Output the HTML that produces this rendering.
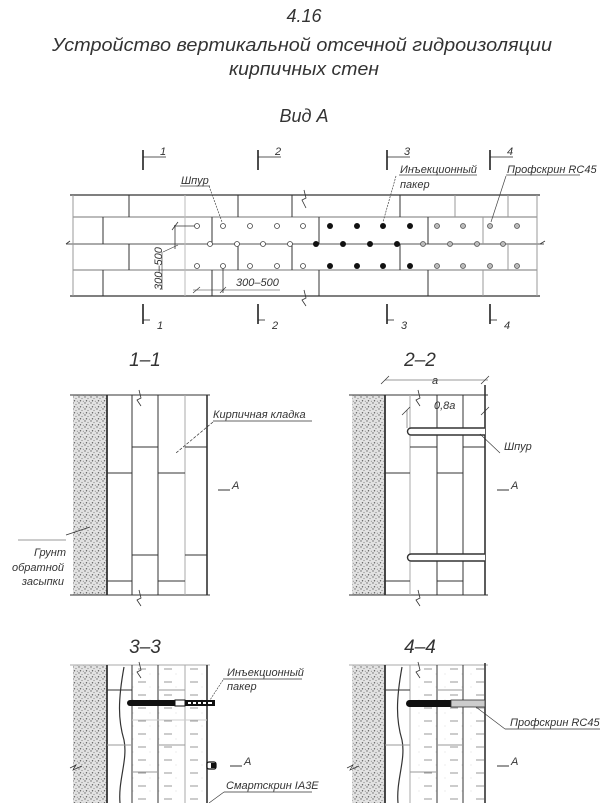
<!DOCTYPE html>
<html><head><meta charset="utf-8"><style>
html,body{margin:0;padding:0;background:#fff;}
svg{display:block;}
text{font-family:"Liberation Sans",sans-serif;font-style:italic;fill:#333;}
</style></head><body>
<svg width="609" height="803" viewBox="0 0 609 803" xmlns="http://www.w3.org/2000/svg">
<defs>
<pattern id="gr" width="6" height="6" patternUnits="userSpaceOnUse">
<rect width="6" height="6" fill="#e2e2e2"/>
<circle cx="1" cy="1" r="0.7" fill="#666"/><circle cx="4" cy="2.5" r="0.6" fill="#888"/><circle cx="2.5" cy="4.8" r="0.7" fill="#555"/><circle cx="5.3" cy="5.3" r="0.5" fill="#777"/>
</pattern>
<pattern id="ds" width="26" height="13" patternUnits="userSpaceOnUse">
<line x1="8" y1="6" x2="16" y2="6" stroke="#999" stroke-width="1"/>
<circle cx="3" cy="11" r="0.5" fill="#ccc"/><circle cx="20" cy="11" r="0.5" fill="#ccc"/>
</pattern>
</defs>

<!-- titles -->
<text x="304" y="22" font-size="18" text-anchor="middle">4.16</text>
<text x="302" y="51" font-size="18" text-anchor="middle" textLength="500" lengthAdjust="spacingAndGlyphs">Устройство вертикальной отсечной гидроизоляции</text>
<text x="304" y="75" font-size="18" text-anchor="middle" textLength="150" lengthAdjust="spacingAndGlyphs">кирпичных стен</text>
<text x="304" y="122" font-size="18" text-anchor="middle">Вид А</text>

<!-- plan view -->
<g stroke="#333" fill="none">
<line x1="70" y1="195" x2="540" y2="195" stroke-width="1.2"/>
<line x1="70" y1="296" x2="540" y2="296" stroke-width="1.2"/>
<line x1="73" y1="217" x2="537" y2="217" stroke="#777"/>
<line x1="66" y1="244" x2="544" y2="244" stroke="#555"/>
<line x1="73" y1="270" x2="537" y2="270" stroke="#777"/>
<line x1="73" y1="195" x2="73" y2="296" stroke="#999"/>
<line x1="537" y1="195" x2="537" y2="296" stroke="#999"/>
<g stroke-width="1">
<line x1="129" y1="195" x2="129" y2="217"/><line x1="238" y1="195" x2="238" y2="217"/><line x1="292" y1="195" x2="292" y2="217"/><line x1="400" y1="195" x2="400" y2="217"/><line x1="455" y1="195" x2="455" y2="217" stroke="#999"/><line x1="508" y1="195" x2="508" y2="217" stroke="#999"/>
<line x1="103" y1="217" x2="103" y2="244"/><line x1="212" y1="217" x2="212" y2="244"/><line x1="319" y1="217" x2="319" y2="244"/><line x1="428" y1="217" x2="428" y2="244"/><line x1="483" y1="217" x2="483" y2="244" stroke="#999"/>
<line x1="129" y1="244" x2="129" y2="270"/><line x1="238" y1="244" x2="238" y2="270"/><line x1="292" y1="244" x2="292" y2="270"/><line x1="400" y1="244" x2="400" y2="270"/><line x1="508" y1="244" x2="508" y2="270" stroke="#999"/>
<line x1="103" y1="270" x2="103" y2="296"/><line x1="212" y1="270" x2="212" y2="296"/><line x1="319" y1="270" x2="319" y2="296"/><line x1="428" y1="270" x2="428" y2="296"/><line x1="483" y1="270" x2="483" y2="296" stroke="#999"/>
</g>
<line x1="185" y1="195" x2="185" y2="296" stroke="#bbb"/>
<path d="M304 190 L306 198 L302 200 L306 208" stroke-width="0.8"/>
<path d="M304 290 L306 298 L302 300 L306 306" stroke-width="0.8"/>
<path d="M66 244 L70 241" stroke-width="0.8"/><path d="M540 244 L545 241" stroke-width="0.8"/>
<line x1="174" y1="226" x2="196" y2="226" stroke-width="0.8"/>
<line x1="175" y1="225" x2="175" y2="249" stroke-width="0.8"/>
<line x1="172" y1="230" x2="178" y2="222" stroke-width="0.8"/>
<line x1="163" y1="252" x2="178" y2="245" stroke-width="0.6"/>
<line x1="162" y1="252" x2="162" y2="290" stroke-width="0.6"/>
<line x1="223" y1="266" x2="223" y2="293" stroke-width="0.8"/>
<line x1="193" y1="290" x2="280" y2="290" stroke-width="0.6"/>
<line x1="193" y1="293" x2="200" y2="287" stroke-width="0.6"/><line x1="220" y1="293" x2="226" y2="287" stroke-width="0.6"/>
</g>
<text x="162" y="290" font-size="11" transform="rotate(-90 162 290)">300–500</text>
<text x="236" y="286" font-size="11">300–500</text>

<g fill="#fff" stroke="#444" stroke-width="0.8">
<circle cx="197" cy="226" r="2.5"/><circle cx="223" cy="226" r="2.5"/><circle cx="250" cy="226" r="2.5"/><circle cx="277" cy="226" r="2.5"/><circle cx="303" cy="226" r="2.5"/>
<circle cx="210" cy="244" r="2.5"/><circle cx="237" cy="244" r="2.5"/><circle cx="263" cy="244" r="2.5"/><circle cx="290" cy="244" r="2.5"/>
<circle cx="197" cy="266" r="2.5"/><circle cx="223" cy="266" r="2.5"/><circle cx="250" cy="266" r="2.5"/><circle cx="277" cy="266" r="2.5"/><circle cx="303" cy="266" r="2.5"/>
</g>
<g fill="#111">
<circle cx="330" cy="226" r="3"/><circle cx="357" cy="226" r="3"/><circle cx="383" cy="226" r="3"/><circle cx="410" cy="226" r="3"/>
<circle cx="316" cy="244" r="3"/><circle cx="343" cy="244" r="3"/><circle cx="370" cy="244" r="3"/><circle cx="397" cy="244" r="3"/>
<circle cx="330" cy="266" r="3"/><circle cx="357" cy="266" r="3"/><circle cx="383" cy="266" r="3"/><circle cx="410" cy="266" r="3"/>
</g>
<g fill="#bbb" stroke="#555" stroke-width="0.8">
<circle cx="437" cy="226" r="2.5"/><circle cx="463" cy="226" r="2.5"/><circle cx="490" cy="226" r="2.5"/><circle cx="517" cy="226" r="2.5"/>
<circle cx="423" cy="244" r="2.5"/><circle cx="450" cy="244" r="2.5"/><circle cx="477" cy="244" r="2.5"/><circle cx="503" cy="244" r="2.5"/>
<circle cx="437" cy="266" r="2.5"/><circle cx="463" cy="266" r="2.5"/><circle cx="490" cy="266" r="2.5"/><circle cx="517" cy="266" r="2.5"/>
</g>
<g stroke="#444" fill="none" stroke-width="0.7">
<line x1="180" y1="186" x2="210" y2="186"/><line x1="209" y1="186" x2="222" y2="222" stroke-dasharray="2 1"/>
<line x1="399" y1="175" x2="477" y2="175"/><line x1="396" y1="176" x2="383" y2="222" stroke-dasharray="2 1"/>
<line x1="506" y1="175" x2="580" y2="175"/><line x1="506" y1="176" x2="491" y2="222"/>
</g>
<text x="181" y="184" font-size="11">Шпур</text>
<text x="400" y="173" font-size="11">Инъекционный</text>
<text x="400" y="188" font-size="11">пакер</text>
<text x="507" y="173" font-size="11">Профскрин RC45</text>
<g stroke="#222" stroke-width="1.6">
<line x1="143" y1="150" x2="143" y2="170"/><line x1="258" y1="150" x2="258" y2="170"/><line x1="387" y1="150" x2="387" y2="170"/><line x1="490" y1="150" x2="490" y2="170"/>
<line x1="143" y1="304" x2="143" y2="324"/><line x1="258" y1="304" x2="258" y2="324"/><line x1="387" y1="304" x2="387" y2="324"/><line x1="490" y1="304" x2="490" y2="324"/>
</g>
<g stroke="#222" stroke-width="0.8">
<line x1="143" y1="157" x2="166" y2="157"/><line x1="258" y1="157" x2="281" y2="157"/><line x1="387" y1="157" x2="410" y2="157"/><line x1="490" y1="157" x2="513" y2="157"/>
<line x1="143" y1="320" x2="150" y2="320"/><line x1="258" y1="320" x2="265" y2="320"/><line x1="387" y1="320" x2="394" y2="320"/><line x1="490" y1="320" x2="497" y2="320"/>
</g>
<text x="160" y="155" font-size="11">1</text><text x="275" y="155" font-size="11">2</text><text x="404" y="155" font-size="11">3</text><text x="507" y="155" font-size="11">4</text>
<text x="157" y="329" font-size="11">1</text><text x="272" y="329" font-size="11">2</text><text x="401" y="329" font-size="11">3</text><text x="504" y="329" font-size="11">4</text>

<!-- 1-1 -->
<text x="145" y="366" font-size="19" text-anchor="middle">1–1</text>
<rect x="73" y="395" width="34" height="200" fill="url(#gr)"/>
<g stroke="#333" fill="none">
<line x1="70" y1="395" x2="210" y2="395"/><line x1="70" y1="595" x2="210" y2="595"/>
<line x1="107" y1="395" x2="107" y2="595" stroke-width="1.8"/>
<line x1="207" y1="395" x2="207" y2="595" stroke-width="1.6"/>
<line x1="132" y1="395" x2="132" y2="595"/><line x1="158" y1="395" x2="158" y2="595"/><line x1="185" y1="395" x2="185" y2="595" stroke="#aaa"/>
<line x1="132" y1="447" x2="158" y2="447"/><line x1="185" y1="447" x2="207" y2="447"/>
<line x1="107" y1="473" x2="132" y2="473"/><line x1="158" y1="473" x2="185" y2="473"/>
<line x1="132" y1="555" x2="158" y2="555"/><line x1="185" y1="555" x2="207" y2="555"/>
<line x1="107" y1="581" x2="132" y2="581"/><line x1="158" y1="581" x2="185" y2="581"/>
<path d="M139 390 L141 398 L137 400 L141 406" stroke-width="0.8"/>
<path d="M139 590 L141 598 L137 600 L141 606" stroke-width="0.8"/>
<line x1="213" y1="421" x2="312" y2="421" stroke-width="0.7"/>
<line x1="213" y1="422" x2="176" y2="453" stroke-width="0.7" stroke-dasharray="3 1.5"/>
<line x1="66" y1="535" x2="90" y2="527" stroke-width="0.7"/>
<line x1="18" y1="540" x2="66" y2="540" stroke-width="0.6"/>
<line x1="218" y1="490" x2="230" y2="490" stroke-width="1"/>
</g>
<text x="213" y="418" font-size="11">Кирпичная кладка</text>
<text x="232" y="489" font-size="11">A</text>
<text x="66" y="556" font-size="11" text-anchor="end">Грунт</text>
<text x="64" y="571" font-size="11" text-anchor="end">обратной</text>
<text x="64" y="585" font-size="11" text-anchor="end">засыпки</text>

<!-- 2-2 -->
<text x="420" y="366" font-size="19" text-anchor="middle">2–2</text>
<rect x="352" y="395" width="33" height="200" fill="url(#gr)"/>
<g stroke="#333" fill="none">
<line x1="349" y1="395" x2="488" y2="395"/><line x1="349" y1="595" x2="488" y2="595"/>
<line x1="385" y1="395" x2="385" y2="595" stroke-width="1.8"/>
<line x1="485" y1="385" x2="485" y2="595" stroke-width="1.6"/>
<line x1="410" y1="395" x2="410" y2="595" stroke="#aaa"/><line x1="437" y1="395" x2="437" y2="595"/><line x1="463" y1="395" x2="463" y2="595"/>
<line x1="410" y1="447" x2="437" y2="447"/><line x1="463" y1="447" x2="485" y2="447"/>
<line x1="385" y1="473" x2="410" y2="473"/><line x1="437" y1="473" x2="463" y2="473"/>
<line x1="410" y1="555" x2="437" y2="555"/><line x1="463" y1="555" x2="485" y2="555"/>
<line x1="385" y1="581" x2="410" y2="581"/><line x1="437" y1="581" x2="463" y2="581"/>
<path d="M418 390 L420 398 L416 400 L420 406" stroke-width="0.8"/>
<path d="M418 590 L420 598 L416 600 L420 606" stroke-width="0.8"/>
<line x1="385" y1="380" x2="488" y2="380" stroke-width="0.6"/>
<line x1="381" y1="384" x2="389" y2="376" stroke-width="0.7"/><line x1="481" y1="384" x2="489" y2="376" stroke-width="0.7"/>
<line x1="407" y1="410" x2="407" y2="428" stroke-width="0.5"/>
<line x1="402" y1="415" x2="410" y2="407" stroke-width="0.7"/><line x1="481" y1="415" x2="489" y2="407" stroke-width="0.7"/>
<path d="M485 428 L411 428 A3.5 3.5 0 0 0 411 435 L485 435" stroke-width="1.4" fill="#fff"/>
<path d="M485 554 L411 554 A3.5 3.5 0 0 0 411 561 L485 561" stroke-width="1.4" fill="#fff"/>
<line x1="480" y1="434" x2="500" y2="453" stroke-width="0.6"/>
<line x1="497" y1="490" x2="509" y2="490" stroke-width="1"/>
</g>
<text x="432" y="384" font-size="11">a</text>
<text x="434" y="409" font-size="11">0,8a</text>
<text x="504" y="450" font-size="11">Шпур</text>
<text x="511" y="489" font-size="11">A</text>

<!-- 3-3 -->
<text x="145" y="653" font-size="19" text-anchor="middle">3–3</text>
<rect x="73" y="665" width="34" height="138" fill="url(#gr)"/>
<rect x="132" y="665" width="75" height="138" fill="url(#ds)"/>
<g stroke="#333" fill="none">
<line x1="70" y1="665" x2="210" y2="665" stroke="#aaa"/>
<line x1="107" y1="665" x2="107" y2="803" stroke-width="1.8"/>
<line x1="207" y1="665" x2="207" y2="803" stroke-width="1.6"/>
<line x1="132" y1="665" x2="132" y2="803"/><line x1="158" y1="665" x2="158" y2="803"/><line x1="185" y1="665" x2="185" y2="803" stroke="#aaa"/>
<path d="M124 667 C118 700,118 720,124 740 C128 760,118 780,120 803" stroke-width="1.2"/>
<line x1="107" y1="690" x2="132" y2="690"/><line x1="158" y1="690" x2="185" y2="690" stroke="#999"/>
<line x1="107" y1="745" x2="132" y2="745" stroke="#999"/><line x1="132" y1="720" x2="207" y2="720" stroke="#ccc"/>
<line x1="158" y1="745" x2="185" y2="745" stroke="#999"/><line x1="132" y1="772" x2="158" y2="772" stroke="#999"/>
<path d="M139 662 L141 670 L137 672 L141 678" stroke-width="0.8"/>
<path d="M70 768 L76 765 L73 770 L82 766" stroke-width="0.7"/>
<line x1="223" y1="679" x2="302" y2="679" stroke-width="0.7"/>
<line x1="223" y1="680" x2="210" y2="700" stroke-width="0.6" stroke-dasharray="2 1"/>
<line x1="224" y1="792" x2="312" y2="792" stroke-width="0.7"/>
<line x1="224" y1="792" x2="209" y2="803" stroke-width="0.6"/>
<line x1="230" y1="766" x2="242" y2="766" stroke-width="1"/>
</g>
<rect x="127" y="700" width="50" height="6" rx="3" fill="#111"/>
<rect x="175" y="700" width="10" height="6" fill="#fff" stroke="#111"/>
<rect x="185" y="700" width="30" height="6" fill="#111"/>
<g fill="#fff"><rect x="188" y="702" width="3" height="2"/><rect x="193" y="702" width="3" height="2"/><rect x="198" y="702" width="3" height="2"/><rect x="203" y="702" width="3" height="2"/><rect x="208" y="702" width="4" height="2"/></g>
<rect x="207" y="762" width="9" height="7" rx="2" fill="#fff" stroke="#111" stroke-width="1.2"/>
<rect x="211" y="763" width="5" height="5" fill="#111"/>
<text x="227" y="676" font-size="11">Инъекционный</text>
<text x="227" y="690" font-size="11">пакер</text>
<text x="244" y="765" font-size="11">A</text>
<text x="226" y="789" font-size="11">Смартскрин IA3E</text>

<!-- 4-4 -->
<text x="420" y="653" font-size="19" text-anchor="middle">4–4</text>
<rect x="352" y="665" width="33" height="138" fill="url(#gr)"/>
<rect x="410" y="665" width="75" height="138" fill="url(#ds)"/>
<g stroke="#333" fill="none">
<line x1="349" y1="665" x2="488" y2="665" stroke="#aaa"/>
<line x1="385" y1="665" x2="385" y2="803" stroke-width="1.8"/>
<line x1="485" y1="663" x2="485" y2="803" stroke-width="1.6"/>
<line x1="410" y1="665" x2="410" y2="803" stroke="#aaa"/><line x1="437" y1="665" x2="437" y2="803"/><line x1="463" y1="665" x2="463" y2="803"/>
<path d="M402 667 C396 700,396 720,402 740 C406 760,396 780,398 803" stroke-width="1.2"/>
<line x1="385" y1="690" x2="410" y2="690"/><line x1="437" y1="690" x2="463" y2="690" stroke="#999"/>
<line x1="385" y1="745" x2="410" y2="745" stroke="#999"/><line x1="437" y1="745" x2="463" y2="745" stroke="#999"/>
<line x1="410" y1="772" x2="437" y2="772" stroke="#999"/>
<path d="M418 662 L420 670 L416 672 L420 678" stroke-width="0.8"/>
<path d="M347 768 L353 765 L350 770 L359 766" stroke-width="0.7"/>
<line x1="472" y1="704" x2="505" y2="729" stroke-width="0.6"/>
<line x1="505" y1="729" x2="600" y2="729" stroke-width="0.7"/>
<line x1="497" y1="766" x2="509" y2="766" stroke-width="1"/>
</g>
<rect x="406" y="700" width="50" height="7" rx="3.5" fill="#111"/>
<rect x="451" y="700" width="34" height="7" fill="#ccc" stroke="#333" stroke-width="0.8"/>
<text x="510" y="726" font-size="11">Профскрин RC45</text>
<text x="511" y="765" font-size="11">A</text>
</svg>
</body></html>
